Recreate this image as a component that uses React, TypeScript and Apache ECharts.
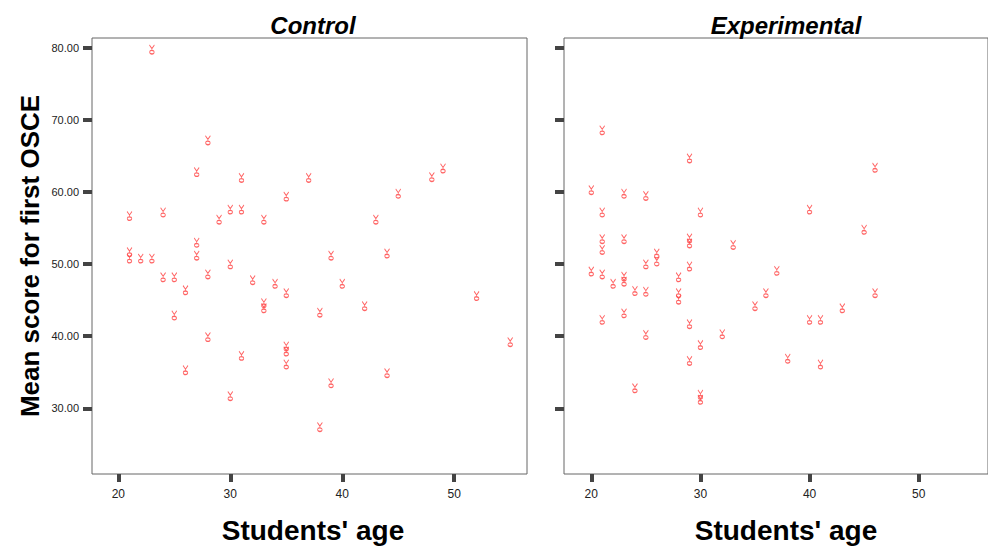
import React, { useEffect, useRef } from "react";
import * as echarts from "echarts";

const panelTitles = ["Control", "Experimental"];
const xTicks = [20, 30, 40, 50];
const yTicks = [30, 40, 50, 60, 70, 80];

const controlAge = [23, 28, 27, 31, 37, 48, 49, 35, 45, 21, 24, 29, 30, 31, 33, 43, 27, 21, 21, 22, 23, 27, 39, 44, 30, 24, 25, 28, 32, 34, 40, 26, 35, 52, 33, 33, 42, 38, 25, 28, 55, 35, 35, 31, 35, 26, 44, 39, 30, 38];
const controlScore = [79.8, 67.2, 62.8, 62.0, 62.0, 62.1, 63.3, 59.4, 59.8, 56.7, 57.2, 56.2, 57.6, 57.6, 56.2, 56.2, 53.0, 51.7, 50.8, 50.8, 50.8, 51.2, 51.2, 51.5, 50.0, 48.2, 48.2, 48.6, 47.8, 47.3, 47.3, 46.4, 46.0, 45.6, 44.6, 43.9, 44.2, 43.3, 42.9, 39.9, 39.2, 38.6, 37.9, 37.3, 36.1, 35.3, 34.9, 33.5, 31.7, 27.4];

const expAge = [21, 29, 46, 20, 23, 25, 21, 30, 40, 45, 21, 23, 29, 29, 33, 21, 26, 26, 25, 29, 37, 20, 21, 23, 23, 22, 28, 24, 25, 28, 28, 36, 46, 35, 43, 23, 21, 40, 41, 29, 25, 32, 30, 38, 29, 41, 24, 30, 30];
const expScore = [68.6, 64.7, 63.4, 60.3, 59.8, 59.5, 57.2, 57.2, 57.6, 54.8, 53.5, 53.5, 53.6, 52.9, 52.7, 52.0, 51.5, 50.4, 50.0, 49.7, 49.1, 49.0, 48.6, 48.3, 47.6, 47.3, 48.2, 46.3, 46.2, 46.0, 45.1, 46.0, 46.0, 44.2, 43.9, 43.2, 42.3, 42.3, 42.3, 41.7, 40.2, 40.3, 38.8, 36.9, 36.6, 36.1, 32.8, 31.9, 31.2];

const markerPath =
  "path://M1,0 L3,4 L5,0 M3,4 L3,6 M3,6 C0.6,6 0.6,10 3,10 C5.4,10 5.4,6 3,6 Z";

export default function App() {
  const ref = useRef<HTMLDivElement>(null);
  useEffect(() => {
    if (!ref.current) return;
    const chart = echarts.init(ref.current, null, { renderer: "svg" });
    const font = "'Liberation Sans', Arial, sans-serif";
    const lefts = [92, 564];
    const xMins = [17.65, 17.5];
    const xAxis = [0, 1].map((i) => ({
      type: "value",
      gridIndex: i,
      min: xMins[i],
      max: xMins[i] + 38.85,
      splitLine: { show: false },
      axisLine: { show: false },
      axisTick: {
        show: true,
        inside: false,
        length: 8,
        customValues: xTicks,
        lineStyle: { color: "#444", width: 4 },
      },
      axisLabel: {
        show: true,
        customValues: xTicks,
        margin: 14,
        color: "#222",
        fontSize: 12,
        fontFamily: font,
      },
    }));
    const yAxis = [0, 1].map((i) => ({
      type: "value",
      gridIndex: i,
      min: 20.88,
      max: 81.39,
      splitLine: { show: false },
      axisLine: { show: false },
      axisTick: {
        show: true,
        inside: false,
        length: 9,
        customValues: yTicks,
        lineStyle: { color: "#444", width: 4 },
      },
      axisLabel: {
        show: i === 0,
        customValues: yTicks,
        margin: 13,
        color: "#222",
        fontSize: 11,
        fontFamily: font,
        formatter: (v: number) => v.toFixed(2),
      },
    }));
    const mk = (ages: number[], scores: number[]) =>
      ages.map((a, k) => [a, scores[k]]);
    chart.setOption({
      animation: false,
      backgroundColor: "#fff",
      grid: lefts.map((l) => ({
        left: l,
        top: 38,
        width: 435,
        height: 436,
        show: true,
        borderColor: "#666",
        borderWidth: 1,
        backgroundColor: "transparent",
      })),
      xAxis,
      yAxis,
      series: [
        { data: mk(controlAge, controlScore), idx: 0 },
        { data: mk(expAge, expScore), idx: 1 },
      ].map((s) => ({
        type: "scatter",
        xAxisIndex: s.idx,
        yAxisIndex: s.idx,
        data: s.data,
        symbol: markerPath,
        symbolSize: [5, 9],
        symbolKeepAspect: false,
        itemStyle: {
          color: "rgba(0,0,0,0)",
          borderColor: "#ff4a4a",
          borderWidth: 1,
          opacity: 0.85,
        },
      })),
      graphic: [
        ...panelTitles.map((t, i) => ({
          type: "text",
          x: [313, 786][i],
          y: 25,
          style: {
            text: t,
            font: `italic bold 24px ${font}`,
            fill: "#000",
            align: "center",
            verticalAlign: "middle",
          },
        })),
        ...[313, 786].map((cx) => ({
          type: "text",
          x: cx,
          y: 530,
          style: {
            text: "Students' age",
            font: `bold 28px ${font}`,
            fill: "#000",
            align: "center",
            verticalAlign: "middle",
          },
        })),
        {
          type: "text",
          x: 30,
          y: 256,
          rotation: Math.PI / 2,
          style: {
            text: "Mean score for first OSCE",
            font: `bold 26px ${font}`,
            fill: "#000",
            align: "center",
            verticalAlign: "middle",
          },
        },
      ],
    });
    return () => chart.dispose();
  }, []);
  return (
    <div
      ref={ref}
      style={{ position: "fixed", left: 0, top: 0, width: 988, height: 546 }}
    />
  );
}
